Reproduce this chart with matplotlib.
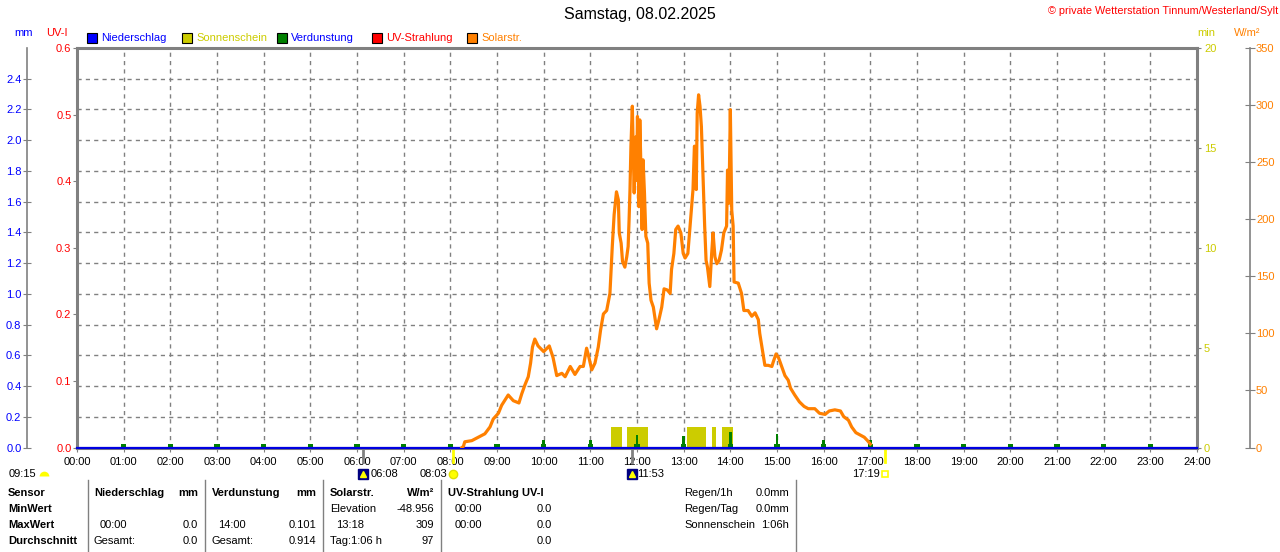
import numpy as np
import matplotlib
matplotlib.use("Agg")
import matplotlib.pyplot as plt
from matplotlib.patches import Rectangle
from matplotlib.lines import Line2D

plt.rcParams['font.family'] = ['Liberation Sans', 'DejaVu Sans']
plt.rcParams['font.size'] = 8

W, H = 1280, 552


def fx(x):
    return x / W


def fy(y):
    return 1 - y / H


# ---------------- Daten ----------------
hours = list(range(25))
hour_labels = [f"{h:02d}:00" for h in hours]

# Solarstrahlung W/m2 (Uhrzeit in Stunden)
solar_t = [8.25, 8.28, 8.31, 8.46, 8.60, 8.74, 8.85, 8.92, 9.03, 9.10, 9.24, 9.35, 9.47, 9.53,
           9.60, 9.67, 9.72, 9.76, 9.81, 9.88, 10.00, 10.12, 10.20, 10.28, 10.39, 10.46, 10.57,
           10.67, 10.78, 10.85, 10.92, 10.97, 11.03, 11.10, 11.17, 11.22, 11.28, 11.35, 11.42,
           11.47, 11.51, 11.56, 11.60, 11.62, 11.66, 11.69, 11.74, 11.78, 11.81, 11.83, 11.85,
           11.87, 11.90, 11.92, 11.94, 11.97, 11.99, 12.01, 12.04, 12.06, 12.08, 12.11, 12.13,
           12.16, 12.19, 12.23, 12.26, 12.30, 12.35, 12.39, 12.42, 12.47, 12.53, 12.58, 12.65,
           12.71, 12.74, 12.79, 12.83, 12.88, 12.94, 12.99, 13.03, 13.09, 13.14, 13.20, 13.23,
           13.27, 13.29, 13.32, 13.35, 13.38, 13.42, 13.45, 13.48, 13.51, 13.56, 13.60, 13.63,
           13.67, 13.71, 13.76, 13.81, 13.86, 13.92, 13.94, 13.97, 14.00, 14.03, 14.06, 14.08,
           14.17, 14.24, 14.29, 14.38, 14.46, 14.53, 14.60, 14.63, 14.69, 14.74, 14.81, 14.89,
           14.92, 14.98, 15.03, 15.10, 15.17, 15.24, 15.29, 15.38, 15.48, 15.58, 15.67, 15.81,
           15.91, 16.03, 16.12, 16.24, 16.36, 16.43, 16.53, 16.60, 16.69, 16.78, 16.87, 16.94,
           17.00]
solar_w = [0, 1, 5, 6, 9, 12, 18, 25, 30, 37, 46, 41, 39, 47,
           55, 62, 74, 88, 95, 89, 84, 89, 79, 63, 65, 62, 71,
           64, 71, 71, 87, 79, 68, 74, 88, 103, 117, 120, 135,
           176, 204, 224, 217, 188, 179, 163, 158, 167, 176, 199, 226,
           264, 299, 258, 223, 272, 234, 290, 211, 287, 252, 191, 252,
           223, 185, 179, 144, 129, 123, 112, 104, 112, 123, 139, 138,
           135, 156, 170, 191, 194, 188, 170, 166, 170, 196, 226, 264,
           226, 293, 309, 299, 281, 232, 194, 164, 158, 141, 170, 188,
           167, 161, 164, 173, 188, 194, 243, 214, 296, 208, 194, 145,
           144, 135, 120, 120, 115, 118, 112, 100, 85, 72, 72, 71,
           75, 82, 79, 71, 63, 59, 52, 46, 40, 36, 34, 34,
           30, 29, 32, 33, 32, 27, 24, 18, 13, 11, 9, 6,
           3]

# Verdunstung mm pro Stunde
evap_h = list(range(1, 24))
evap_mm = [0.024, 0.024, 0.024, 0.024, 0.024, 0.024, 0.024, 0.024, 0.024,
           0.052, 0.052, 0.080, 0.076, 0.101, 0.085, 0.052, 0.052,
           0.024, 0.024, 0.024, 0.024, 0.024, 0.024]

# Sonnenschein (min)
sun_start = [11.44, 11.78, 13.08, 13.61, 13.82]
sun_end = [11.67, 12.23, 13.48, 13.69, 14.06]
sun_min = [1.05, 1.05, 1.05, 1.05, 1.05]

# Ereignisse unter der Achse
ev_times = ['06:08', '08:03', '11:53', '17:19']

C_GRID = '#808080'
C_BLUE = '#0000ff'
C_RED = '#ff0000'
C_YEL = '#cccc00'
C_ORA = '#ff8000'
C_GRN = '#008000'

fig = plt.figure(figsize=(12.8, 5.52), dpi=100)
rect = [fx(77), fy(447.5), (1197 - 77) / W, (447.5 - 48) / H]

# mm-Achse (links aussen) + Gitter
ax = fig.add_axes(rect)
ax.set_xlim(0, 24)
ax.set_ylim(0, 2.6)
ax.set_xticks(hours)
ax.set_xticklabels(hour_labels)
ax.set_yticks(np.arange(0, 2.41, 0.2))
ax.yaxis.set_major_formatter('{x:.1f}')
ax.grid(True, color=C_GRID, linestyle=(0, (3, 3)), linewidth=1)
ax.spines['left'].set_position(('outward', 36))
ax.spines['left'].set_color(C_GRID)
ax.spines['left'].set_linewidth(1.2)
for s in ['top', 'right', 'bottom']:
    ax.spines[s].set_visible(False)
ax.tick_params(axis='y', colors=C_GRID, labelcolor=C_BLUE, direction='inout', length=6, pad=1)
ax.tick_params(axis='x', colors=C_GRID, labelcolor='black', length=3, pad=4)

# UV-I Achse + Rahmen
ax_uv = ax.twinx()
ax_uv.set_ylim(0, 0.6)
ax_uv.yaxis.tick_left()
ax_uv.set_yticks(np.arange(0, 0.61, 0.1))
ax_uv.yaxis.set_major_formatter('{x:.1f}')
ax_uv.tick_params(axis='y', colors=C_GRID, labelcolor=C_RED, length=3, pad=1)
for s in ax_uv.spines.values():
    s.set_color(C_GRID)
    s.set_linewidth(2.2)

# Sonnenschein (min)
ax_min = ax.twinx()
ax_min.set_ylim(0, 20)
ax_min.set_yticks([0, 5, 10, 15, 20])
ax_min.tick_params(axis='y', colors=C_GRID, labelcolor=C_YEL, length=3, pad=2)
for s in ax_min.spines.values():
    s.set_visible(False)
sun_w = [e - s for s, e in zip(sun_start, sun_end)]
ax_min.bar(sun_start, sun_min, width=sun_w, align='edge', color=C_YEL, linewidth=0)

# Verdunstung + Niederschlag
ax_ev = ax.twinx()
ax_ev.set_ylim(0, 2.6)
ax_ev.set_axis_off()
ax_ev.bar(evap_h, evap_mm, width=0.06, color=C_GRN, linewidth=0)
ax_ev.bar(evap_h, [min(v, 0.02) for v in evap_mm], width=0.11, color=C_GRN, linewidth=0)
ax_ev.axhline(0, color='#0000e0', linewidth=1.6, clip_on=False)

# Solarstrahlung
ax_w = ax.twinx()
ax_w.set_ylim(0, 350)
ax_w.set_yticks(range(0, 351, 50))
ax_w.spines['right'].set_position(('outward', 38))
ax_w.spines['right'].set_color(C_GRID)
ax_w.spines['right'].set_linewidth(1.2)
for s in ['top', 'left', 'bottom']:
    ax_w.spines[s].set_visible(False)
ax_w.tick_params(axis='y', colors=C_GRID, labelcolor=C_ORA, direction='inout', length=7, pad=1)
ax_w.plot(solar_t, solar_w, color=C_ORA, linewidth=2.3)

# Markierungen unter der Achse
ev_h = [int(t[:2]) + int(t[3:]) / 60 for t in ev_times]
xt = ax.get_xaxis_transform()
mark_col = [C_GRID, '#ffff00', C_GRID, '#ffff00']
for h, c in zip(ev_h, mark_col):
    ax.plot([h, h], [-0.003, -0.036], color=c, linewidth=2, transform=xt, clip_on=False)
yi = -0.066
# 06:08 + 11:53 Icons
for h in [ev_h[0], ev_h[2]]:
    ax.plot([h], [yi], marker='s', ms=7.5, mfc='#000080', mec='#000080', transform=xt, clip_on=False)
    ax.plot([h], [yi], marker='^', ms=4, mfc='#ffff00', mec='#ffff00', transform=xt, clip_on=False)
ax.plot([ev_h[1]], [yi], marker='o', ms=6, mfc='#ffff00', mec='#e0e000', transform=xt, clip_on=False)
ax.plot([ev_h[3]], [yi], marker='s', ms=4.5, mfc='white', mec='#ffff00', mew=1.2, transform=xt, clip_on=False)
offs = [(7, 'left'), (-5, 'right'), (6, 'left'), (-5, 'right')]
for h, lab, (dx, ha) in zip(ev_h, ev_times, offs):
    ax.annotate(lab, xy=(h, yi), xycoords=xt, xytext=(dx, 0), textcoords='offset pixels',
                ha=ha, va='center', annotation_clip=False)

fig.text(fx(9), fy(474), '09:15', ha='left', va='center')
fig.add_artist(Line2D([fx(44)], [fy(476)], marker='o', ms=7, fillstyle='top',
                      mfc='#ffff00', mfcalt='none', mec='none', transform=fig.transFigure))

# Titel und Kopf
fig.text(0.5, fy(15), 'Samstag, 08.02.2025', ha='center', va='center', fontsize=11.5)
fig.text(fx(1278), fy(11), '© private Wetterstation Tinnum/Westerland/Sylt', ha='right',
         va='center', color=C_RED, fontsize=7.8)
fig.text(fx(14), fy(33), 'mm', color=C_BLUE, va='center')
fig.text(fx(46), fy(33), 'UV-I', color=C_RED, va='center')
fig.text(fx(1197), fy(33), 'min', color=C_YEL, va='center')
fig.text(fx(1234), fy(33), 'W/m²', color=C_ORA, va='center')

legend_items = [('Niederschlag', C_BLUE, C_BLUE, 87),
                ('Sonnenschein', C_YEL, C_YEL, 182),
                ('Verdunstung', C_GRN, C_BLUE, 277),
                ('UV-Strahlung', C_RED, C_RED, 372),
                ('Solarstr.', C_ORA, C_ORA, 467)]
for lab, fc, tc, x in legend_items:
    fig.add_artist(Rectangle((fx(x), fy(43)), 10 / W, 10 / H, facecolor=fc, edgecolor='black',
                             linewidth=0.8, transform=fig.transFigure))
    fig.text(fx(x + 14), fy(38), lab, color=tc, va='center')

# Tabelle
table = [
    ('Sensor', 8, 493, 'left', True), ('MinWert', 8, 509, 'left', True),
    ('MaxWert', 8, 525, 'left', True), ('Durchschnitt', 8, 541, 'left', True),
    ('Niederschlag', 94, 493, 'left', True), ('mm', 198, 493, 'right', True),
    ('00:00', 100, 525, 'left', False), ('0.0', 198, 525, 'right', False),
    ('Gesamt:', 94, 541, 'left', False), ('0.0', 198, 541, 'right', False),
    ('Verdunstung', 212, 493, 'left', True), ('mm', 316, 493, 'right', True),
    ('14:00', 218, 525, 'left', False), ('0.101', 316, 525, 'right', False),
    ('Gesamt:', 212, 541, 'left', False), ('0.914', 316, 541, 'right', False),
    ('Solarstr.', 330, 493, 'left', True), ('W/m²', 434, 493, 'right', True),
    ('Elevation', 330, 509, 'left', False), ('-48.956', 434, 509, 'right', False),
    ('13:18', 336, 525, 'left', False), ('309', 434, 525, 'right', False),
    ('Tag:1:06 h', 330, 541, 'left', False), ('97', 434, 541, 'right', False),
    ('UV-Strahlung UV-I', 448, 493, 'left', True),
    ('00:00', 455, 509, 'left', False), ('0.0', 552, 509, 'right', False),
    ('00:00', 455, 525, 'left', False), ('0.0', 552, 525, 'right', False),
    ('0.0', 552, 541, 'right', False),
    ('Regen/1h', 684, 493, 'left', False), ('0.0mm', 789, 493, 'right', False),
    ('Regen/Tag', 684, 509, 'left', False), ('0.0mm', 789, 509, 'right', False),
    ('Sonnenschein', 684, 525, 'left', False), ('1:06h', 789, 525, 'right', False),
]
for txt, x, y, ha, bold in table:
    fig.text(fx(x), fy(y), txt, ha=ha, va='center', fontweight='bold' if bold else 'normal')

for x in [88, 205, 323, 441, 796]:
    fig.add_artist(Line2D([fx(x), fx(x)], [fy(480), fy(552)], color=C_GRID, linewidth=1,
                          transform=fig.transFigure))

fig.savefig('out.png', dpi=100)
